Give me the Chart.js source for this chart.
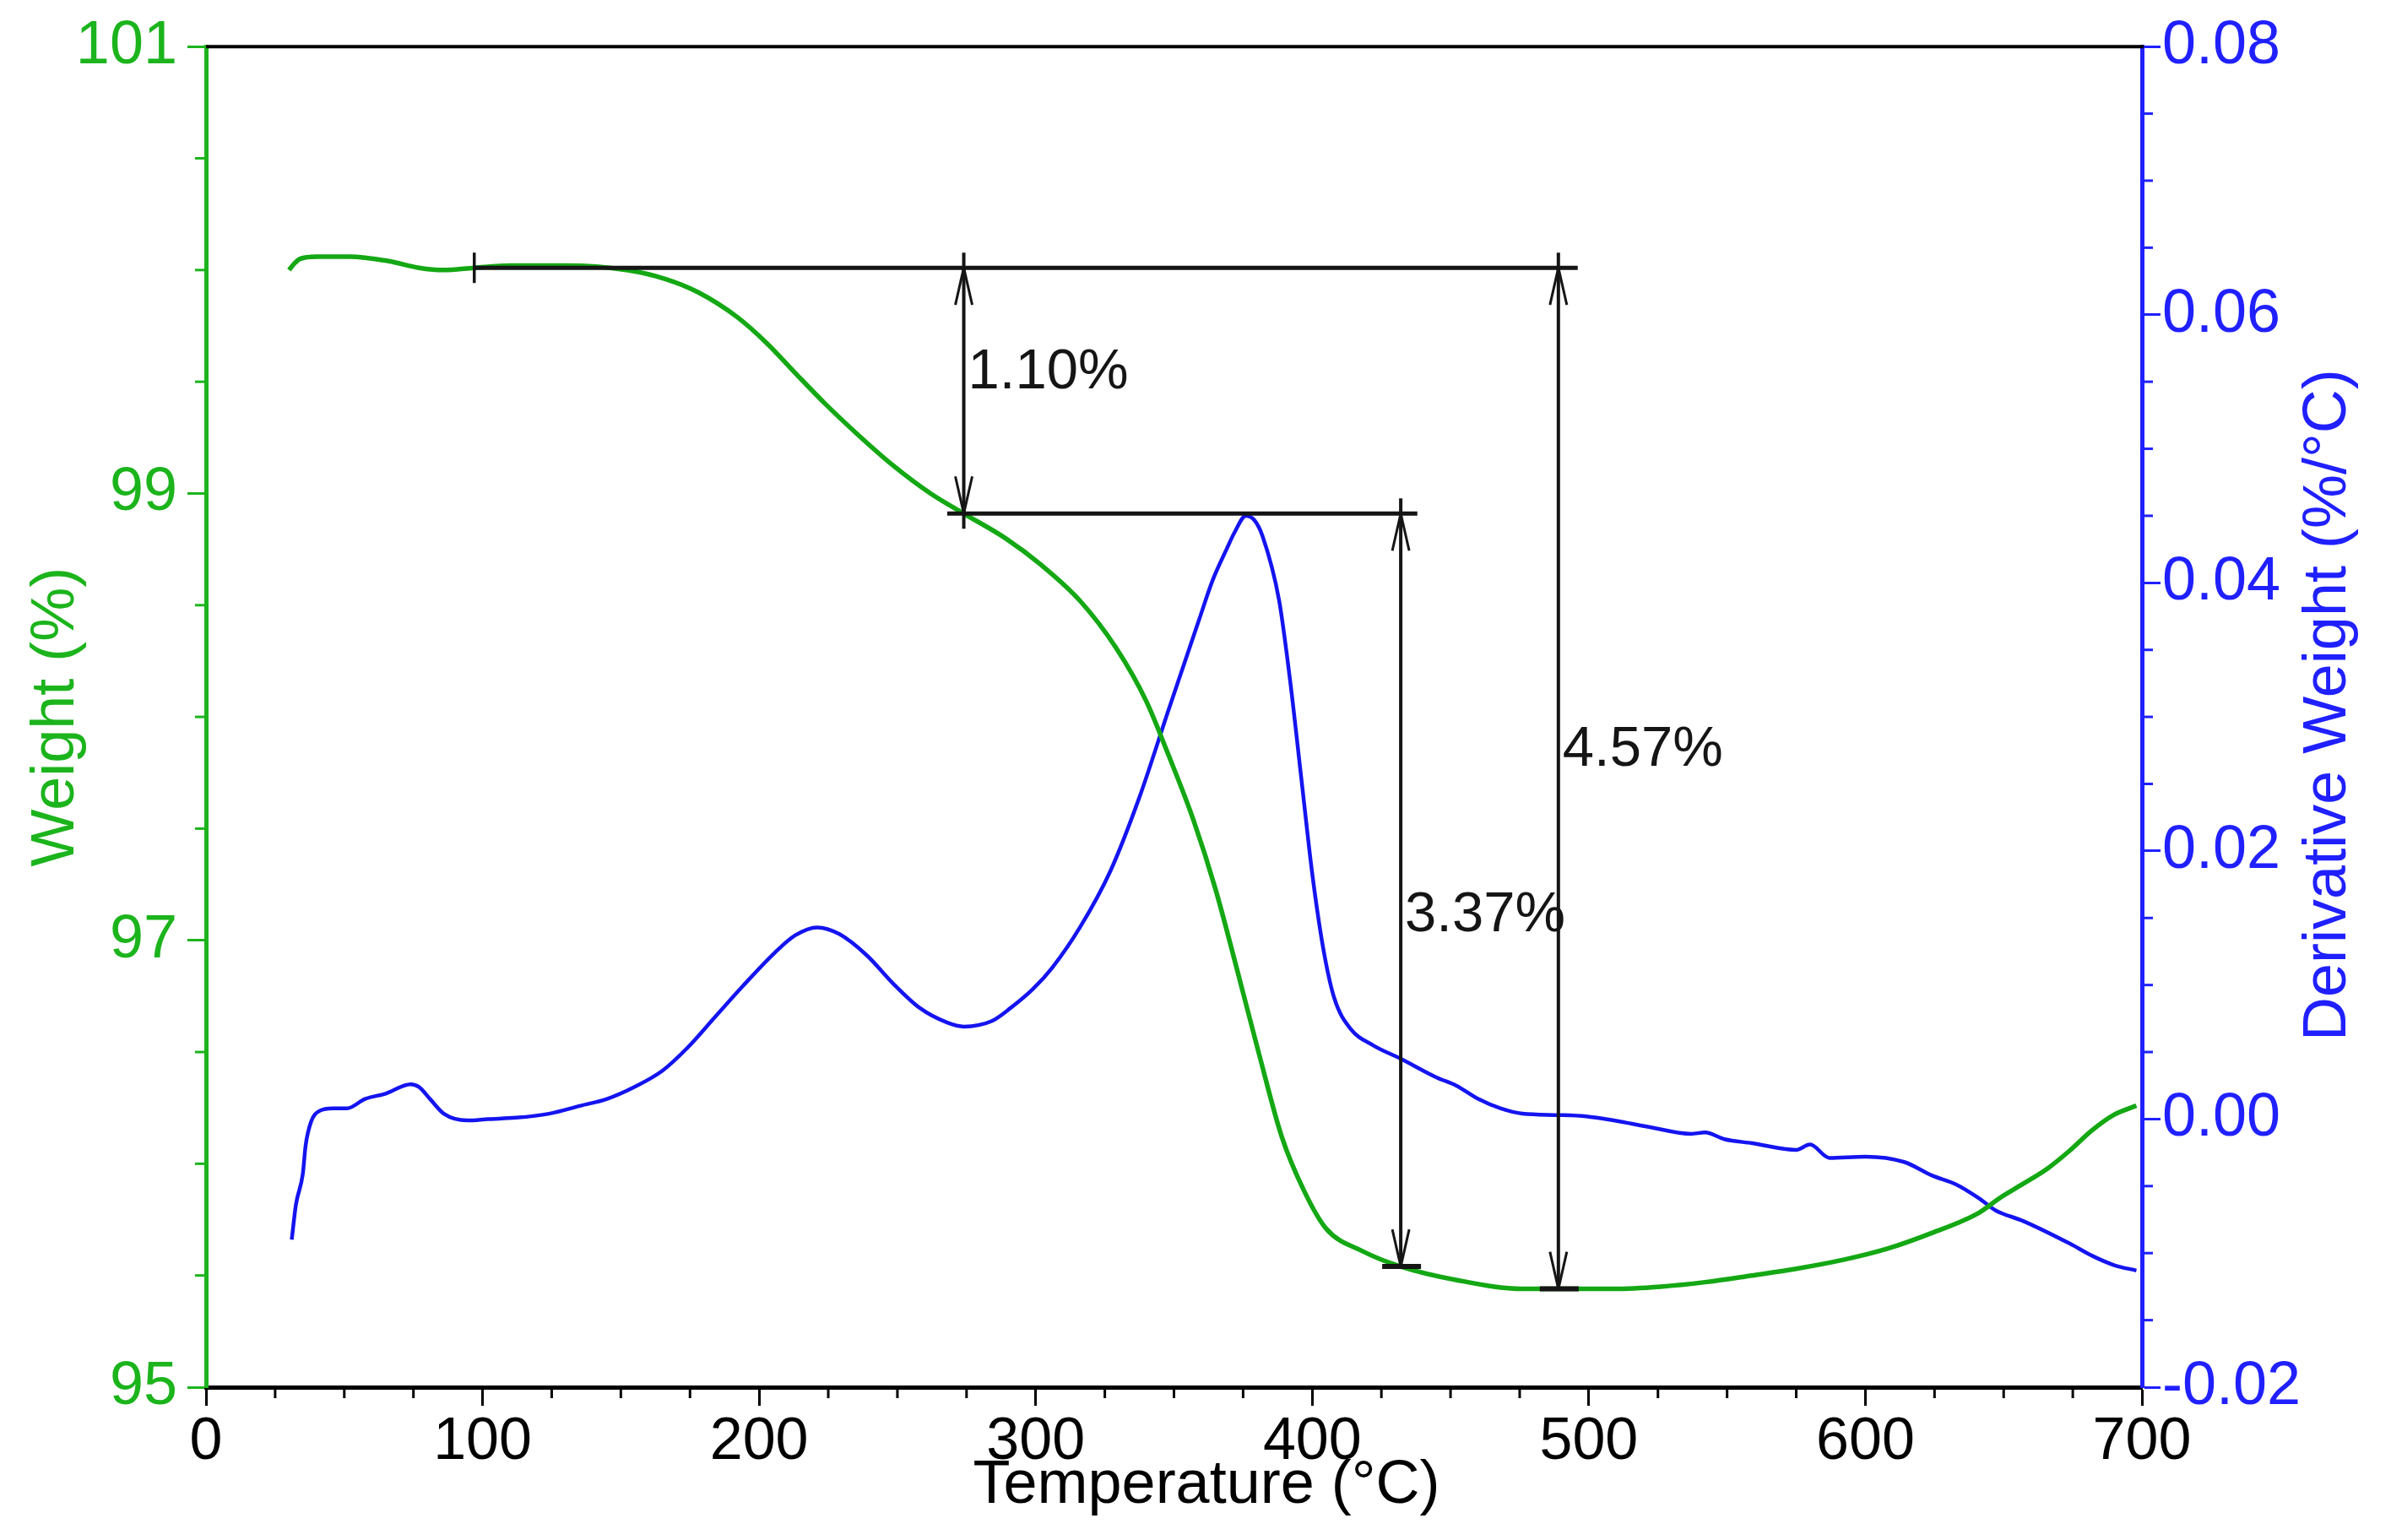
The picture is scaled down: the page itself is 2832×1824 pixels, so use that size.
<!DOCTYPE html>
<html lang="en">
<head>
    <meta charset="UTF-8">
    <title>TGA / DTG - Weight loss</title>
    <style>
        html, body { margin: 0; padding: 0; background: #fff; }
        canvas { display: block; }
    </style>
</head>
<body>
    <canvas id="tgaChart" width="2832" height="1824"></canvas>
    <script src="https://cdn.jsdelivr.net/npm/chart.js"></script>
    <script>
        // Weight curve (left axis)
        const tempW = [30, 32, 34, 40, 52, 66, 77, 86, 97, 110, 130, 152, 166, 178, 192, 203, 213, 224, 236, 248,
            262, 274, 289, 302, 316, 329, 340, 348, 357, 365, 373, 381, 389, 397, 405, 418, 432, 452, 476, 509,
            526, 542, 559, 575, 592, 608, 624, 641, 649, 657, 666, 674, 682, 690, 698];
        const weightPct = [100.00, 100.03, 100.05, 100.06, 100.06, 100.04, 100.01, 100.00, 100.01, 100.02,
            100.02, 100.00, 99.96, 99.90, 99.79, 99.67, 99.54, 99.40, 99.26, 99.13,
            99.00, 98.91, 98.80, 98.68, 98.52, 98.31, 98.07, 97.83, 97.54, 97.23,
            96.86, 96.48, 96.12, 95.88, 95.71, 95.61, 95.54, 95.48, 95.44, 95.44,
            95.45, 95.47, 95.50, 95.53, 95.57, 95.62, 95.69, 95.78, 95.85, 95.91,
            95.98, 96.06, 96.15, 96.22, 96.26];

        // Derivative weight curve (right axis)
        const tempD = [31, 32.5, 35, 36, 38, 41, 46, 51, 57.5, 65, 74, 77, 81, 86, 94.5, 102, 112, 124, 135.5, 145,
            155, 165, 174, 184, 194, 205.6, 213, 221, 229, 239, 248.5, 258, 268, 274, 284, 291, 299, 306, 316, 327,
            337.5, 348, 359, 364, 369, 372, 376, 379, 382, 388, 392, 396, 400, 404, 408, 414, 422, 432, 445, 452,
            460, 468, 476, 489, 499, 509, 522, 537, 542, 549, 559, 575, 580, 587, 600, 614, 624, 633, 641, 647,
            657, 674, 682, 690, 698];
        const derivWeight = [-0.0090, -0.0064, -0.0041, -0.0020, -0.0002, 0.0006, 0.0008, 0.0008, 0.0015, 0.0019,
            0.0026, 0.0024, 0.0015, 0.0004, -0.0001, 0.0000, 0.0001, 0.0004, 0.0010, 0.0015,
            0.0024, 0.0036, 0.0053, 0.0076, 0.0099, 0.0124, 0.0137, 0.0143, 0.0138, 0.0122,
            0.0101, 0.0083, 0.0072, 0.0069, 0.0073, 0.0083, 0.0097, 0.0113, 0.0143, 0.0185,
            0.0240, 0.0305, 0.0372, 0.0402, 0.0425, 0.0438, 0.0450, 0.0447, 0.0435, 0.0387,
            0.0327, 0.0255, 0.0183, 0.0127, 0.0090, 0.0067, 0.0055, 0.0045, 0.0031, 0.0025,
            0.0015, 0.0008, 0.0004, 0.0003, 0.0002, -0.0001, -0.0006, -0.0011, -0.0010, -0.0015,
            -0.0018, -0.0023, -0.0019, -0.0029, -0.0028, -0.0032, -0.0042, -0.0049, -0.0059, -0.0068,
            -0.0076, -0.0093, -0.0102, -0.0109, -0.0113];

        // Axis ranges / tick steps
        const tempRange = [0, 700];
        const weightRange = [95, 101];
        const derivRange = [-0.02, 0.08];
        const tempSteps = [100, 25];       // major, minor
        const weightSteps = [2, 0.5];
        const derivSteps = [0.02, 0.005];

        // Step annotations (temperature, weight %)
        const baseLines = [[97, 496, 100.01], [268, 438, 98.91]];
        const startMarkT = 97;
        const lossLabels = ['1.10%', '3.37%', '4.57%'];
        const arrowTemps = [274, 432, 489];
        const arrowFrom = [100.01, 98.91, 100.01];
        const arrowTo = [98.91, 95.54, 95.44];
        const labelLevels = [99.54, 97.11, 97.85];

        const FONT = "'Liberation Sans', Arial, sans-serif";
        const GREEN = '#1cb41c';
        const GREEN_LINE = '#14a814';
        const BLUE = '#2020ff';
        const BLUE_LINE = '#1414f0';
        const INK = '#151515';

        function seg(ctx, x0, y0, x1, y1) {
            ctx.beginPath();
            ctx.moveTo(x0, y0);
            ctx.lineTo(x1, y1);
            ctx.stroke();
        }

        function isMajor(v, step) {
            const r = Math.abs(v / step - Math.round(v / step));
            return r < 1e-6;
        }

        const tgaDecor = {
            id: 'tgaDecor',
            afterDatasetsDraw(chart) {
                const ctx = chart.ctx;
                const xs = chart.scales.x, ys = chart.scales.yW;
                const px = v => xs.getPixelForValue(v);
                const py = v => ys.getPixelForValue(v);
                ctx.save();
                ctx.strokeStyle = INK;
                ctx.lineCap = 'butt';

                // horizontal reference levels
                ctx.lineWidth = 5;
                baseLines.forEach(([t0, t1, w]) => seg(ctx, px(t0), py(w), px(t1), py(w)));

                // start marker
                ctx.lineWidth = 3.5;
                seg(ctx, px(startMarkT), py(baseLines[0][2]) - 18, px(startMarkT), py(baseLines[0][2]) + 18);

                // double arrows
                arrowTemps.forEach((t, i) => {
                    const x = px(t), yTop = py(arrowFrom[i]), yBot = py(arrowTo[i]);
                    const firstStep = i === 0;
                    ctx.lineWidth = 4;
                    seg(ctx, x, yTop - 18, x, firstStep ? yBot + 18 : yBot);
                    // open arrow heads
                    ctx.lineWidth = 3;
                    seg(ctx, x, yTop, x - 10, yTop + 44);
                    seg(ctx, x, yTop, x + 10, yTop + 44);
                    seg(ctx, x, yBot, x - 10, yBot - 44);
                    seg(ctx, x, yBot, x + 10, yBot - 44);
                    if (!firstStep) {
                        ctx.lineWidth = 6;
                        seg(ctx, x - 22, yBot, x + 24, yBot);
                    }
                    ctx.fillStyle = INK;
                    ctx.font = '67px ' + FONT;
                    ctx.textAlign = 'left';
                    ctx.textBaseline = 'middle';
                    ctx.fillText(lossLabels[i], x + 5, py(labelLevels[i]));
                });
                ctx.restore();
            },
            afterDraw(chart) {
                const ctx = chart.ctx;
                const area = chart.chartArea;
                const xs = chart.scales.x, yW = chart.scales.yW, yD = chart.scales.yD;
                ctx.save();
                ctx.lineWidth = 3;

                // minor ticks
                ctx.strokeStyle = '#000';
                for (let v = tempRange[0] + tempSteps[1]; v < tempRange[1]; v += tempSteps[1]) {
                    if (isMajor(v, tempSteps[0])) continue;
                    const x = xs.getPixelForValue(v);
                    seg(ctx, x, area.bottom, x, area.bottom + 13);
                }
                ctx.strokeStyle = GREEN;
                for (let v = weightRange[0] + weightSteps[1]; v < weightRange[1]; v += weightSteps[1]) {
                    if (isMajor(v - weightRange[0], weightSteps[0])) continue;
                    const y = yW.getPixelForValue(v);
                    seg(ctx, area.left, y, area.left - 13, y);
                }
                ctx.strokeStyle = BLUE;
                for (let k = 1; k < 20; k++) {
                    const v = derivRange[0] + k * derivSteps[1];
                    if (isMajor(v, derivSteps[0])) continue;
                    const y = yD.getPixelForValue(v);
                    seg(ctx, area.right, y, area.right + 13, y);
                }

                // top frame line
                ctx.strokeStyle = '#000';
                ctx.lineWidth = 4;
                seg(ctx, area.left, area.top, area.right + 2, area.top);

                // x title
                ctx.fillStyle = '#000';
                ctx.font = '72px ' + FONT;
                ctx.textAlign = 'center';
                ctx.textBaseline = 'middle';
                ctx.fillText('Temperature (°C)', area.left + 1185, 1760);

                // right title, reading bottom to top
                ctx.fillStyle = BLUE;
                ctx.translate(2758, (area.top + area.bottom) / 2 - 14);
                ctx.rotate(-Math.PI / 2);
                ctx.fillText('Derivative Weight (%/°C)', 0, 0);
                ctx.restore();
            }
        };

        const canvas = document.getElementById('tgaChart');
        new Chart(canvas.getContext('2d'), {
            type: 'line',
            data: {
                datasets: [{
                    label: 'Weight (%)',
                    data: tempW.map((t, i) => ({ x: t, y: weightPct[i] })),
                    yAxisID: 'yW',
                    borderColor: GREEN_LINE,
                    borderWidth: 5.5,
                    pointRadius: 0,
                    cubicInterpolationMode: 'monotone',
                    fill: false
                }, {
                    label: 'Derivative Weight (%/°C)',
                    data: tempD.map((t, i) => ({ x: t, y: derivWeight[i] })),
                    yAxisID: 'yD',
                    borderColor: BLUE_LINE,
                    borderWidth: 4.5,
                    pointRadius: 0,
                    cubicInterpolationMode: 'monotone',
                    fill: false
                }]
            },
            options: {
                responsive: false,
                animation: false,
                devicePixelRatio: 1,
                layout: { padding: { top: 54, left: 0, right: 0, bottom: 0 } },
                plugins: {
                    legend: { display: false },
                    tooltip: { enabled: false }
                },
                scales: {
                    x: {
                        type: 'linear',
                        position: 'bottom',
                        min: tempRange[0],
                        max: tempRange[1],
                        ticks: {
                            stepSize: tempSteps[0],
                            color: '#000',
                            font: { family: FONT, size: 70 },
                            padding: 2,
                            maxRotation: 0
                        },
                        grid: { drawOnChartArea: false, tickLength: 22, tickWidth: 3, tickColor: '#000' },
                        border: { color: '#000', width: 5 },
                        afterFit: s => { s.height = 181; }
                    },
                    yW: {
                        type: 'linear',
                        position: 'left',
                        min: weightRange[0],
                        max: weightRange[1],
                        ticks: {
                            stepSize: weightSteps[0],
                            color: GREEN,
                            font: { family: FONT, size: 72 },
                            padding: 12
                        },
                        grid: { drawOnChartArea: false, tickLength: 22, tickWidth: 3, tickColor: GREEN },
                        border: { color: GREEN, width: 5 },
                        title: {
                            display: true,
                            text: 'Weight (%)',
                            color: GREEN,
                            font: { family: FONT, size: 72 },
                            padding: { top: 24, bottom: 0 }
                        },
                        afterFit: s => { s.width = 244; }
                    },
                    yD: {
                        type: 'linear',
                        position: 'right',
                        min: derivRange[0],
                        max: derivRange[1],
                        ticks: {
                            stepSize: derivSteps[0],
                            color: BLUE,
                            font: { family: FONT, size: 72 },
                            padding: 2,
                            callback: v => v.toFixed(2)
                        },
                        grid: { drawOnChartArea: false, tickLength: 22, tickWidth: 3, tickColor: BLUE },
                        border: { color: BLUE, width: 5 },
                        afterFit: s => { s.width = 295; }
                    }
                }
            },
            plugins: [tgaDecor]
        });
    </script>
</body>
</html>
